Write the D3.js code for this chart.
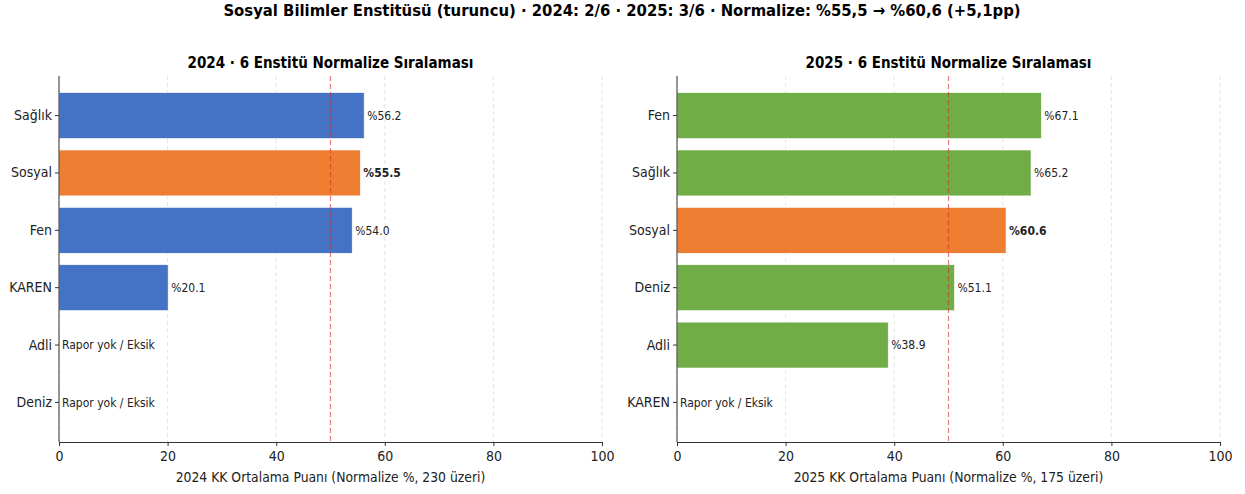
<!DOCTYPE html>
<html><head><meta charset="utf-8">
<script src="https://cdn.jsdelivr.net/npm/d3@7"></script>
<style>body{margin:0;background:#fff}text{font-family:"DejaVu Sans Condensed","DejaVu Sans",sans-serif;font-stretch:condensed}</style>
</head><body>
<svg id="c" width="1245" height="494"></svg>
<script>
const mainTitle = "Sosyal Bilimler Enstitüsü (turuncu) · 2024: 2/6 · 2025: 3/6 · Normalize: %55,5 → %60,6 (+5,1pp)";
const cats2024 = ["Sağlık","Sosyal","Fen","KAREN","Adli","Deniz"];
const vals2024 = [56.2, 55.5, 54.0, 20.1, null, null];
const cats2025 = ["Fen","Sağlık","Sosyal","Deniz","Adli","KAREN"];
const vals2025 = [67.1, 65.2, 60.6, 51.1, 38.9, null];
const highlight = "Sosyal";
const xTicks = [0,20,40,60,80,100];
const refLine = 50;
const titles = ["2024 · 6 Enstitü Normalize Sıralaması","2025 · 6 Enstitü Normalize Sıralaması"];
const xLabels = ["2024 KK Ortalama Puanı (Normalize %, 230 üzeri)","2025 KK Ortalama Puanı (Normalize %, 175 üzeri)"];
const missingText = "Rapor yok / Eksik";

const svg = d3.select("#c");
svg.append("text").attr("x", 622).attr("y", 16).attr("text-anchor","middle")
  .attr("font-size", 16.5).attr("font-weight","bold").attr("fill","#000").text(mainTitle);

function panel(x0, x1, cats, vals, baseColor, title, xlabel){
  const top = 76, bottom = 442;
  const x = d3.scaleLinear().domain([0,100]).range([x0,x1]);
  const y = d3.scaleBand().domain(cats).range([top,bottom]).paddingInner(0.2).paddingOuter(0.29);
  const g = svg.append("g");
  g.selectAll(".grid").data(xTicks).enter().append("line")
    .attr("x1", d=>x(d)).attr("x2", d=>x(d)).attr("y1", top).attr("y2", bottom)
    .attr("stroke","#dddddd").attr("stroke-width",0.8).attr("stroke-dasharray","4,3");
  const data = cats.map((c,i)=>({c, v: vals[i]}));
  g.selectAll(".bar").data(data.filter(d=>d.v!==null)).enter().append("rect")
    .attr("x", x(0)).attr("y", d=>y(d.c)).attr("width", d=>x(d.v)-x(0)).attr("height", y.bandwidth())
    .attr("fill", d=>d.c===highlight?"#ED7D31":baseColor)
    .attr("stroke","#ffffff").attr("stroke-width",0.6);
  g.append("line").attr("x1", x(refLine)).attr("x2", x(refLine)).attr("y1", top).attr("y2", bottom)
    .attr("stroke","#d62728").attr("stroke-opacity",0.6).attr("stroke-width",1.2).attr("stroke-dasharray","5,3");
  g.selectAll(".lbl").data(data).enter().append("text")
    .attr("x", d=> d.v===null ? x(0)+3 : x(d.v)+3)
    .attr("y", d=>y(d.c)+y.bandwidth()/2).attr("dy","0.35em")
    .attr("font-size", 12).attr("fill","#222")
    .attr("font-weight", d=>d.c===highlight?"bold":"normal")
    .text(d=> d.v===null ? missingText : "%" + d.v.toFixed(1));
  const xa = g.append("g").attr("transform",`translate(0,${bottom})`)
    .call(d3.axisBottom(x).tickValues(xTicks).tickSize(4).tickPadding(5));
  const ya = g.append("g").attr("transform",`translate(${x0},0)`)
    .call(d3.axisLeft(y).tickSize(4).tickPadding(3));
  [xa,ya].forEach(a=>{
    a.select(".domain").attr("stroke","#333").attr("stroke-width",1);
    a.selectAll(".tick line").attr("stroke","#333");
    a.selectAll(".tick text").attr("font-size",14).attr("fill","#222")
      .attr("font-family",'"DejaVu Sans Condensed","DejaVu Sans",sans-serif');
  });
  ya.select(".domain").attr("d", `M0,${top}V${bottom}`);
  g.append("text").attr("x",(x0+x1)/2).attr("y",68).attr("text-anchor","middle")
    .attr("font-size",15).attr("font-weight","bold").attr("fill","#000").text(title);
  g.append("text").attr("x",(x0+x1)/2).attr("y",482).attr("text-anchor","middle")
    .attr("font-size",13.8).attr("fill","#222").text(xlabel);
}
panel(59, 602, cats2024, vals2024, "#4472C4", titles[0], xLabels[0]);
panel(677, 1220, cats2025, vals2025, "#70AD47", titles[1], xLabels[1]);
</script>
</body></html>
